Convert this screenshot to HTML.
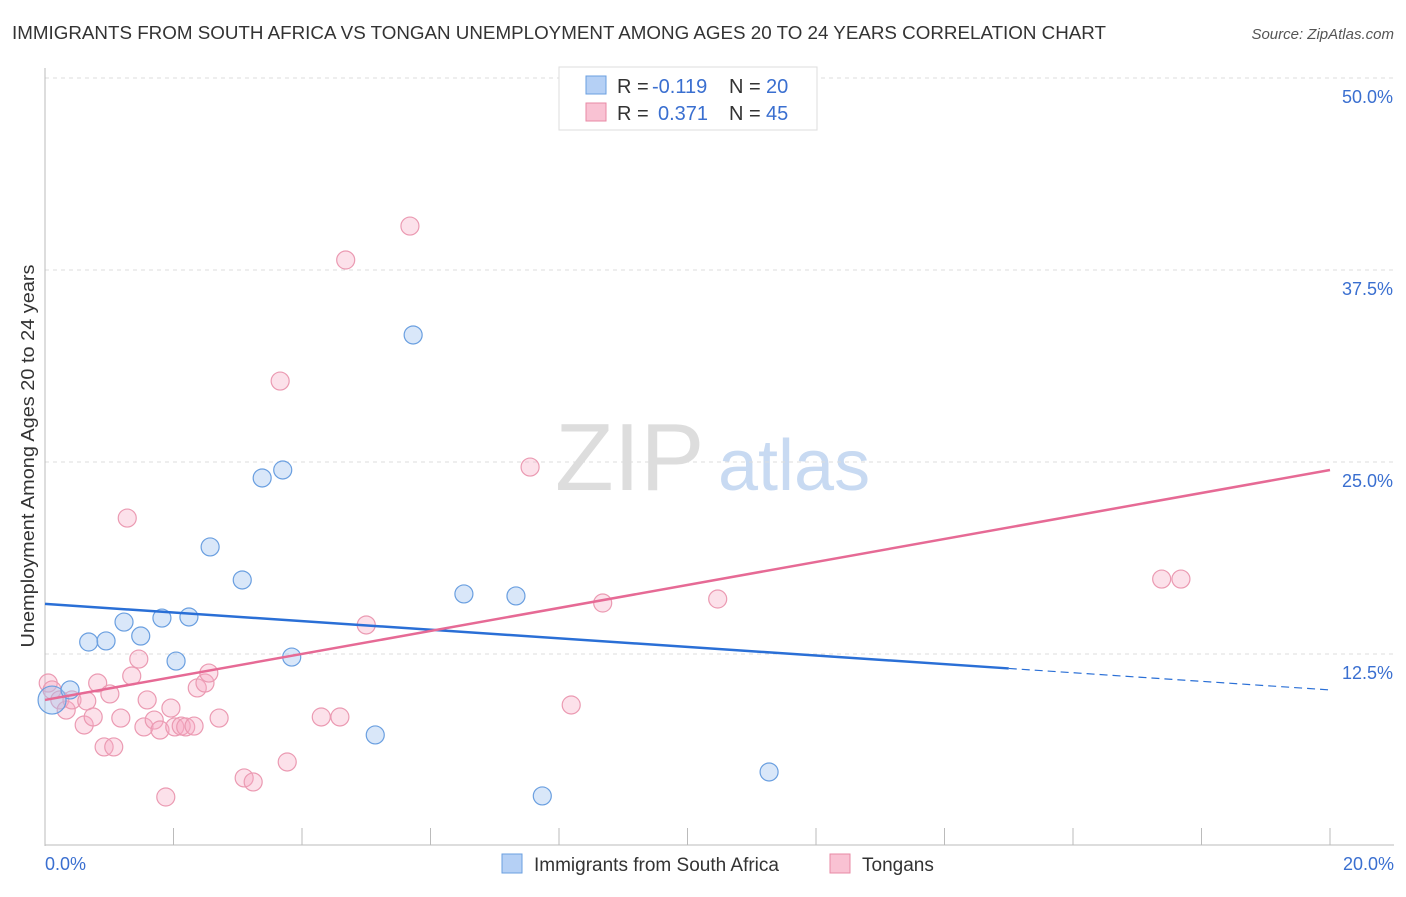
<!DOCTYPE html>
<html><head><meta charset="utf-8"><style>
body{margin:0;background:#fff;font-family:"Liberation Sans",sans-serif;}
svg text{font-family:"Liberation Sans",sans-serif;}
</style></head><body>
<svg id="chart" width="1406" height="892">
<text x="12" y="39" font-size="18" fill="#333" textLength="1094" lengthAdjust="spacingAndGlyphs">IMMIGRANTS FROM SOUTH AFRICA VS TONGAN UNEMPLOYMENT AMONG AGES 20 TO 24 YEARS CORRELATION CHART</text>
<text x="1394" y="39" font-size="15" fill="#555" text-anchor="end" font-style="italic">Source: ZipAtlas.com</text>
<text x="34" y="456" font-size="18" fill="#333" text-anchor="middle" textLength="383" lengthAdjust="spacingAndGlyphs" transform="rotate(-90 34 456)">Unemployment Among Ages 20 to 24 years</text>
<g><text x="555" y="490" font-size="96" fill="#ddd" font-family="Liberation Serif,serif">ZIP</text><text x="718" y="490" font-size="72" fill="#c8daf2">atlas</text></g>
<g id="grid"></g><g id="marks"></g>
<g>
<rect x="559" y="67" width="258" height="63" fill="#fff" stroke="#ddd"/>
<rect x="586" y="76" width="20" height="18" fill="#b5d0f5" stroke="#6a9fe0"/>
<rect x="586" y="103" width="20" height="18" fill="#f9c2d3" stroke="#e88aa5"/>
<text x="617" y="93" font-size="20" fill="#333">R =</text>
<text x="652" y="93" font-size="20" fill="#3a6fd0">-0.119</text>
<text x="729" y="93" font-size="20" fill="#333">N =</text>
<text x="766" y="93" font-size="20" fill="#3a6fd0">20</text>
<text x="617" y="120" font-size="20" fill="#333">R =</text>
<text x="658" y="120" font-size="20" fill="#3a6fd0">0.371</text>
<text x="729" y="120" font-size="20" fill="#333">N =</text>
<text x="766" y="120" font-size="20" fill="#3a6fd0">45</text>
</g>
<g>
<rect x="502" y="854" width="20" height="19" fill="#b5d0f5" stroke="#6a9fe0"/>
<text x="534" y="871" font-size="19" fill="#333">Immigrants from South Africa</text>
<rect x="830" y="854" width="20" height="19" fill="#f9c2d3" stroke="#e88aa5"/>
<text x="862" y="871" font-size="19" fill="#333">Tongans</text>
</g>
</svg>
<script>
const blueX=[0.11,0.39,0.68,0.95,1.23,1.49,1.82,2.04,2.24,2.57,3.07,3.38,3.70,3.84,5.14,5.73,6.52,7.33,7.74,11.27];
const blueY=[9.5,10.16,13.28,13.35,14.58,13.67,14.84,12.04,14.91,19.47,17.32,23.96,24.48,12.30,7.23,33.27,16.41,16.28,3.26,4.82];
const pinkX=[0.05,0.11,0.23,0.33,0.42,0.61,0.65,0.75,0.82,0.92,1.01,1.07,1.18,1.28,1.35,1.46,1.54,1.59,1.70,1.79,1.88,1.96,2.02,2.12,2.19,2.32,2.37,2.49,2.55,2.71,3.10,3.24,3.66,3.77,4.30,4.59,4.68,5.00,5.68,7.55,8.19,8.68,10.47,17.38,17.68];
const pinkY=[10.61,10.16,9.51,8.85,9.51,7.88,9.44,8.40,10.61,6.45,9.90,6.45,8.33,21.35,11.07,12.17,7.75,9.51,8.20,7.55,3.19,8.98,7.75,7.81,7.75,7.81,10.29,10.61,11.26,8.33,4.43,4.17,30.27,5.47,8.40,8.40,38.15,14.39,40.36,24.67,9.18,15.82,16.08,17.38,17.38];
const blueTrend=[15.76,10.16];
const pinkTrend=[9.51,24.48];
const yTicks=[12.5,25,37.5,50];
const xTicks=[0,2,4,6,8,10,12,14,16,18,20];
const X=v=>45+v/20*1285, Y=v=>846-v/12.5*192;
const NS='http://www.w3.org/2000/svg';
function mk(t,a,p){const e=document.createElementNS(NS,t);for(const k in a)e.setAttribute(k,a[k]);p.appendChild(e);return e;}
const g=document.getElementById('grid'), m=document.getElementById('marks');
yTicks.forEach(t=>{
 const l=mk('line',{x1:45,x2:1394,y1:Y(t),y2:Y(t),stroke:'#ddd','stroke-dasharray':'4,4'},g);
 
 
 const tx=mk('text',{x:1393,y:Y(t)+25,'font-size':18,fill:'#3a6fd0','text-anchor':'end'},g);tx.textContent=t.toFixed(1)+'%';
 
 
});
mk('line',{x1:45,x2:45,y1:68,y2:846,stroke:'#bbb'},g);
mk('line',{x1:45,x2:1394,y1:845,y2:845,stroke:'#bbb'},g);
xTicks.forEach(t=>{const l=mk('line',{x1:X(t),x2:X(t),y1:828,y2:845,stroke:'#bbb'},g);
 
 });
[[0,'start',45],[20,'end',1394]].forEach(([v,a,x])=>{const tx=mk('text',{x:x,y:870,'font-size':18,fill:'#3a6fd0','text-anchor':a},g);tx.textContent=v.toFixed(1)+'%';
 
 });
pinkX.forEach((x,i)=>{const c=mk('circle',{cx:X(x),cy:Y(pinkY[i]),r:9,fill:'rgba(246,170,195,0.35)',stroke:'#eb9ab2','stroke-width':1.2},m);
 
 });
blueX.forEach((x,i)=>{const c=mk('circle',{cx:X(x),cy:Y(blueY[i]),r:i==0?14:9,fill:'rgba(160,195,240,0.4)',stroke:'#6a9fe0','stroke-width':1.2},m);
 
 });
const bAt=x=>blueTrend[0]+(blueTrend[1]-blueTrend[0])*x/20;
const b1=mk('line',{x1:X(0),y1:Y(bAt(0)),x2:X(15),y2:Y(bAt(15)),stroke:'#2a6fd6','stroke-width':2.5},m);


const b2=mk('line',{x1:X(15),y1:Y(bAt(15)),x2:X(20),y2:Y(bAt(20)),stroke:'#2a6fd6','stroke-width':1.2,'stroke-dasharray':'8,5'},m);


const p1=mk('line',{x1:X(0),y1:Y(pinkTrend[0]),x2:X(20),y2:Y(pinkTrend[1]),stroke:'#e66a95','stroke-width':2.5},m);


</script>
</body></html>
